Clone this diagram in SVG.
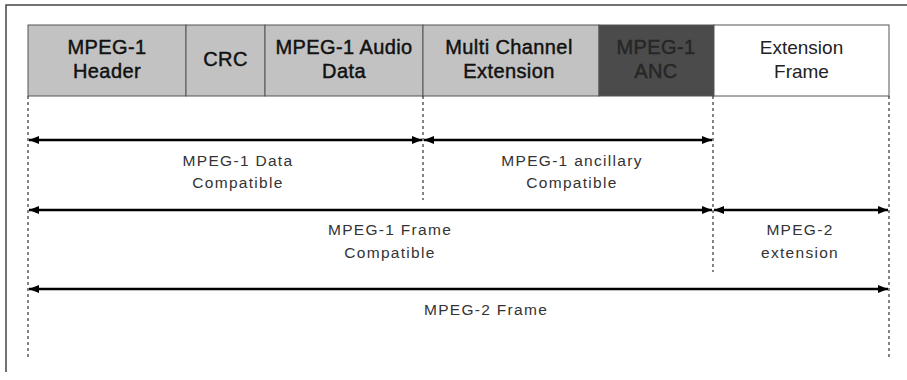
<svg xmlns="http://www.w3.org/2000/svg" width="907" height="380" viewBox="0 0 907 380">
  <style>
    .frame { fill: none; stroke: #444; stroke-width: 1.5; }
    .cell { stroke: #555; stroke-width: 1; }
    .light { fill: #c2c2c2; }
    .dark { fill: #4b4b4b; }
    .white { fill: #ffffff; }
    .head { font-family: "Liberation Sans", Arial, sans-serif; font-size: 20px; fill: #111; stroke: #111; stroke-width: 0.45; text-anchor: middle; letter-spacing: 0.4px; }
    .head-dark { fill: #262626; stroke: #262626; }
    .head-plain { font-family: "Liberation Sans", Arial, sans-serif; font-size: 19px; fill: #222; text-anchor: middle; }
    .guide { stroke: #333; stroke-width: 1.2; stroke-dasharray: 3 3; fill: none; }
    .span { stroke: #000; stroke-width: 2.6; fill: none; marker-start: url(#tip); marker-end: url(#tip); }
    .lbl { font-family: "Liberation Sans", Arial, sans-serif; font-size: 15.5px; fill: #333; text-anchor: middle; letter-spacing: 1.3px; }
  </style>
  <defs>
    <marker id="tip" viewBox="0 0 10 8" refX="10" refY="4" markerWidth="10" markerHeight="8" markerUnits="userSpaceOnUse" orient="auto-start-reverse">
      <path d="M0,0 L10,4 L0,8 Z" fill="#000"/>
    </marker>
  </defs>

  <rect width="907" height="380" fill="#ffffff"/>

  <!-- outer border: top and left edges -->
  <path class="frame" d="M907,5 H6 V372"/>

  <!-- frame fields -->
  <g id="mpeg1-header">
    <rect class="cell light" x="28" y="25" width="158" height="71"/>
    <text class="head" x="107" y="54">MPEG-1</text>
    <text class="head" x="107" y="78">Header</text>
  </g>
  <g id="crc">
    <rect class="cell light" x="186" y="25" width="79" height="71"/>
    <text class="head" x="225.5" y="66">CRC</text>
  </g>
  <g id="mpeg1-audio-data">
    <rect class="cell light" x="265" y="25" width="158" height="71"/>
    <text class="head" x="344" y="54">MPEG-1 Audio</text>
    <text class="head" x="344" y="78">Data</text>
  </g>
  <g id="multi-channel-extension">
    <rect class="cell light" x="423" y="25" width="176" height="71"/>
    <text class="head" x="509" y="54">Multi Channel</text>
    <text class="head" x="509" y="78">Extension</text>
  </g>
  <g id="mpeg1-anc">
    <rect class="cell dark" x="599" y="25" width="115" height="71"/>
    <text class="head head-dark" x="656" y="54">MPEG-1</text>
    <text class="head head-dark" x="656" y="78">ANC</text>
  </g>
  <g id="extension-frame">
    <rect class="cell white" x="714" y="25" width="175" height="71"/>
    <text class="head-plain" x="801.5" y="54">Extension</text>
    <text class="head-plain" x="801.5" y="78">Frame</text>
  </g>

  <!-- boundary guides and span arrows -->
  <g id="connectors">
    <line class="guide" x1="28" y1="96" x2="28" y2="360"/>
    <line class="guide" x1="423" y1="96" x2="423" y2="200"/>
    <line class="guide" x1="713" y1="96" x2="713" y2="272"/>
    <line class="guide" x1="889" y1="96" x2="889" y2="360"/>

    <line class="span" x1="29" y1="140" x2="422" y2="140"/>
    <line class="span" x1="424" y1="140" x2="712" y2="140"/>
    <line class="span" x1="29" y1="210" x2="712" y2="210"/>
    <line class="span" x1="714" y1="210" x2="888" y2="210"/>
    <line class="span" x1="29" y1="289" x2="888" y2="289"/>
  </g>

  <!-- span labels -->
  <g id="label-data">
    <text class="lbl" x="238" y="166">MPEG-1 Data</text>
    <text class="lbl" x="238" y="188">Compatible</text>
  </g>
  <g id="label-ancillary">
    <text class="lbl" x="572" y="166">MPEG-1 ancillary</text>
    <text class="lbl" x="572" y="188">Compatible</text>
  </g>
  <g id="label-mpeg1-frame">
    <text class="lbl" x="390" y="235">MPEG-1 Frame</text>
    <text class="lbl" x="390" y="258">Compatible</text>
  </g>
  <g id="label-mpeg2-extension">
    <text class="lbl" x="800" y="235">MPEG-2</text>
    <text class="lbl" x="800" y="258">extension</text>
  </g>
  <g id="label-mpeg2-frame">
    <text class="lbl" x="486" y="315">MPEG-2 Frame</text>
  </g>
</svg>
